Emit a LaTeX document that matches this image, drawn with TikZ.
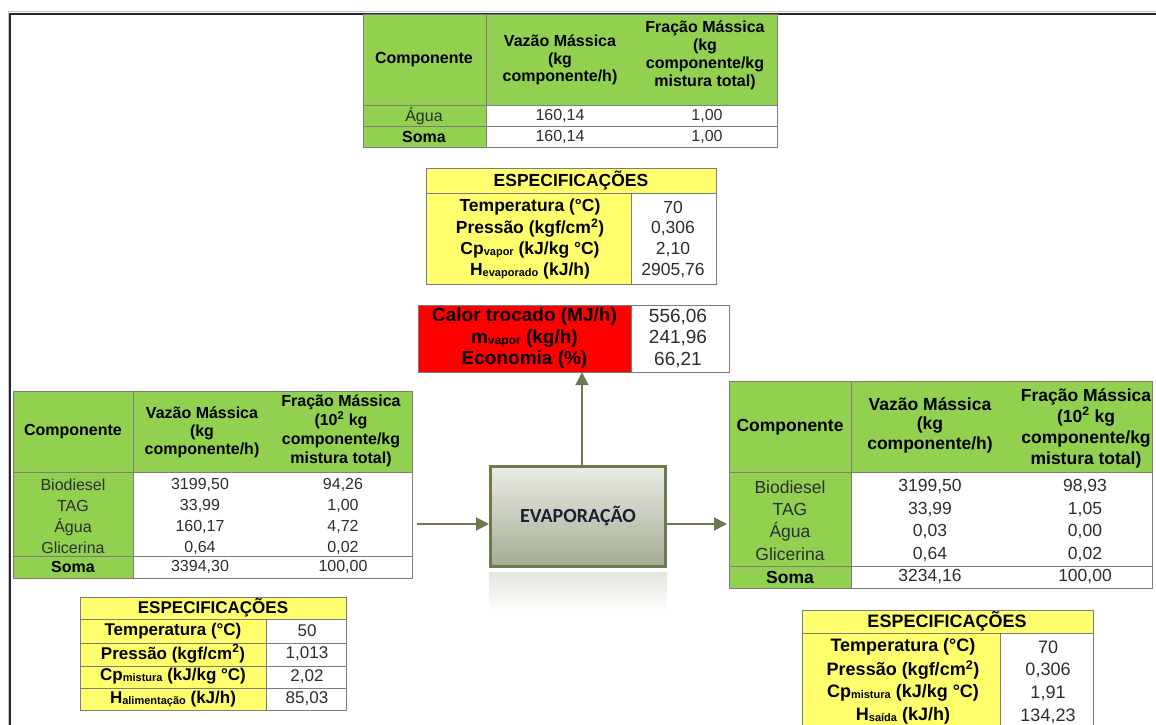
\documentclass[tikz,border=0pt]{standalone}
\usepackage{fontspec}
\setmainfont{Liberation Sans}
\newfontfamily\calibrifont{Carlito}
\usepackage{tikz}
\usetikzlibrary{arrows.meta}

\definecolor{xlgreen}{RGB}{146,208,80}
\definecolor{xlyellow}{RGB}{255,255,110}
\definecolor{xlred}{RGB}{255,0,0}
\definecolor{gridgray}{RGB}{125,125,125}
\definecolor{flowgreen}{RGB}{107,123,79}
\definecolor{boxtop}{RGB}{234,236,230}
\definecolor{boxbot}{RGB}{163,172,146}
\definecolor{valgray}{RGB}{45,45,45}

\newcommand{\subtxt}[1]{{\fontsize{11}{11}\selectfont\raisebox{-1pt}{#1}}}

\tikzset{
  cell/.style={draw=gridgray, line width=1},
  bold/.style={execute at begin node=\bfseries},
  txt/.style={inner sep=0, align=center, text=black},
  val/.style={inner sep=0, align=center, text=valgray},
  flow/.style={draw=flowgreen, line width=2, -{Triangle[width=13,length=13]}},
  procbox/.style={draw=flowgreen, line width=3, top color=boxtop, bottom color=boxbot,
    minimum width=175, minimum height=100, inner sep=0,
    font=\calibrifont\bfseries\fontsize{20}{24}\selectfont, text={rgb,255:red,30;green,30;blue,50}}
}

\begin{document}
\begin{tikzpicture}[x=1pt,y=-1pt]
        \useasboundingbox (0,0) rectangle (1156,725);
        
        % frame
        \draw[gray!45, line width=1] (8,745) -- (8,12) -- (1170,12);
        \draw[black!85, line width=2] (10,745) -- (10,14) -- (1170,14);
        
        % vapour stream
        \begin{scope}[font=\fontsize{16}{17.5}\selectfont]
        \fill[xlgreen] (363,15) rectangle (777,105);
        \fill[xlgreen] (363,105) rectangle (486,147);
        \draw[cell] (363,15) rectangle (777,147);
        \draw[cell] (363,105) -- (777,105);
        \draw[cell] (363,126) -- (777,126);
        \draw[cell] (486,15) -- (486,147);
        \node[txt,bold] (vapcomp) at (424,60) {Componente};
        \node[txt,bold] (vapvaz) at (560,60) {Vazão Mássica\\(kg\\componente/h)};
        \node[txt,bold,font=\fontsize{16}{18}\selectfont] (vapfrac) at (705,55) {Fração Mássica\\(kg\\componente/kg\\mistura total)};
        \node[val] (vapn1) at (424,116) {Água};
        \node[val] (vapa1) at (560,116) {160,14};
        \node[val] (vapb1) at (707,116) {1,00};
        \node[txt,bold] (vapsum) at (424,137) {Soma};
        \node[val] (vapsuma) at (560,137) {160,14};
        \node[val] (vapsumb) at (707,137) {1,00};
        \end{scope}
        
        % vapour specs
        \begin{scope}[font=\fontsize{17.5}{20}\selectfont]
        \fill[xlyellow] (426,168) rectangle (716,193);
        \fill[xlyellow] (426,193) rectangle (631,284);
        \draw[cell] (426,168) rectangle (716,284);
        \draw[cell] (426,193) -- (716,193);
        \draw[cell] (631,193) -- (631,284);
        \node[txt,bold] (spvhead) at (571,181) {ESPECIFICAÇÕES};
        \foreach \lab/\val [count=\i] in {{Temperatura (°C)}/70, {Pressão (kgf/cm\textsuperscript{2})}/{0,306}, {Cp\subtxt{vapor} (kJ/kg °C)}/{2,10}, {H\subtxt{evaporado} (kJ/h)}/{2905,76}} {
          \node[txt,bold] (spvl\i) at (530,{207+(\i-1)*21.3}) {\lab};
          \node[val] (spvv\i) at (673,{207+(\i-1)*21.3}) {\val};
        }
        \end{scope}
        
        % results
        \fill[white] (631,305) rectangle (729,372);
        \node[txt,bold,fill=xlred,minimum width=213,minimum height=67,
          font=\fontsize{19}{21.5}\selectfont] (heat) at (524.5,338.5)
          {Calor trocado (MJ/h)\\m{\fontsize{12}{12}\selectfont\raisebox{-1pt}{vapor}} (kg/h)\\Economia (\%)};
        \node[val,font=\fontsize{19}{21.5}\selectfont] (heatval) at (678,338.5) {556,06\\241,96\\66,21};
        \draw[cell] (418,305) rectangle (729,372);
        \draw[cell] (631,305) -- (631,372);
        
        % feed stream
        \begin{scope}[font=\fontsize{16}{18}\selectfont]
        \fill[xlgreen] (13,391) rectangle (412,472);
        \fill[xlgreen] (13,472) rectangle (133,578);
        \draw[cell] (13,391) rectangle (412,578);
        \draw[cell] (13,472) -- (412,472);
        \draw[cell] (13,556) -- (412,556);
        \draw[cell] (133,391) -- (133,578);
        \node[txt,bold] (feedcomp) at (73,432) {Componente};
        \node[txt,bold] (feedvaz) at (202,432) {Vazão Mássica\\(kg\\componente/h)};
        \node[txt,bold,font=\fontsize{16}{19}\selectfont] (feedfrac) at (341,431) {Fração Mássica\\(10\textsuperscript{2} kg\\componente/kg\\mistura total)};
        \foreach \nm/\va/\vb [count=\i] in {Biodiesel/{3199,50}/{94,26}, TAG/{33,99}/{1,00}, Água/{160,17}/{4,72}, Glicerina/{0,64}/{0,02}} {
          \node[val] (feedn\i) at (73,{485+(\i-1)*21}) {\nm};
          \node[val] (feeda\i) at (200,{485+(\i-1)*21}) {\va};
          \node[val] (feedb\i) at (343,{485+(\i-1)*21}) {\vb};
        }
        \node[txt,bold] (feedsum) at (73,567) {Soma};
        \node[val] (feedsuma) at (200,567) {3394,30};
        \node[val] (feedsumb) at (343,567) {100,00};
        \end{scope}
        
        % feed specs
        \begin{scope}[font=\fontsize{17}{20}\selectfont]
        \fill[xlyellow] (80,597) rectangle (346,619);
        \fill[xlyellow] (80,619) rectangle (266,710);
        \draw[cell] (80,597) rectangle (346,710);
        \foreach \y in {619,643,666,688}
          \draw[cell] (80,\y) -- (346,\y);
        \draw[cell] (266,619) -- (266,710);
        \node[txt,bold] (spfhead) at (213,608) {ESPECIFICAÇÕES};
        \foreach \lab/\val [count=\i] in {{Temperatura (°C)}/50, {Pressão (kgf/cm\textsuperscript{2})}/{1,013}, {Cp\subtxt{mistura} (kJ/kg °C)}/{2,02}, {H\subtxt{alimentação} (kJ/h)}/{85,03}} {
          \node[txt,bold] (spfl\i) at (173,{631+(\i-1)*22.7}) {\lab};
          \node[val] (spfv\i) at (307,{631+(\i-1)*22.7}) {\val};
        }
        \end{scope}
        
        % product stream
        \begin{scope}[font=\fontsize{17.5}{19.5}\selectfont]
        \fill[xlgreen] (729,381) rectangle (1152,472);
        \fill[xlgreen] (729,472) rectangle (851,588);
        \draw[cell] (729,381) rectangle (1152,588);
        \draw[cell] (729,472) -- (1152,472);
        \draw[cell] (729,566) -- (1152,566);
        \draw[cell] (851,381) -- (851,588);
        \node[txt,bold] (prodcomp) at (790,427) {Componente};
        \node[txt,bold] (prodvaz) at (930,425) {Vazão Mássica\\(kg\\componente/h)};
        \node[txt,bold,font=\fontsize{17.5}{21}\selectfont] (prodfrac) at (1086,428) {Fração Mássica\\(10\textsuperscript{2} kg\\componente/kg\\mistura total)};
        \foreach \nm/\va/\vb [count=\i] in {Biodiesel/{3199,50}/{98,93}, TAG/{33,99}/{1,05}, Água/{0,03}/{0,00}, Glicerina/{0,64}/{0,02}} {
          \node[val] (prodn\i) at (790,{487+(\i-1)*22.5}) {\nm};
          \node[val] (proda\i) at (930,{487+(\i-1)*22.5}) {\va};
          \node[val] (prodb\i) at (1085,{487+(\i-1)*22.5}) {\vb};
        }
        \node[txt,bold] (prodsum) at (790,577) {Soma};
        \node[val] (prodsuma) at (930,577) {3234,16};
        \node[val] (prodsumb) at (1085,577) {100,00};
        \end{scope}
        
        % product specs
        \begin{scope}[font=\fontsize{18}{20}\selectfont]
        \fill[xlyellow] (802,610) rectangle (1093,633);
        \fill[xlyellow] (802,633) rectangle (1000,740);
        \draw[cell] (802,740) -- (802,610) -- (1093,610) -- (1093,740);
        \draw[cell] (802,633) -- (1093,633);
        \draw[cell] (1000,633) -- (1000,740);
        \node[txt,bold] (spphead) at (947,621.5) {ESPECIFICAÇÕES};
        \foreach \lab/\val [count=\i] in {{Temperatura (°C)}/70, {Pressão (kgf/cm\textsuperscript{2})}/{0,306}, {Cp\subtxt{mistura} (kJ/kg °C)}/{1,91}, {H\subtxt{saída} (kJ/h)}/{134,23}} {
          \node[txt,bold] (sppl\i) at (903,{647+(\i-1)*23}) {\lab};
          \node[val] (sppv\i) at (1048,{647+(\i-1)*23}) {\val};
        }
        \end{scope}
        
        % evaporator (with its faint reflection)
        \shade[top color=boxbot!30!white, bottom color=white] (489,572) rectangle (667,612);
        \node[procbox] (proc) at (578,516.5) {EVAPORAÇÃO};
        
        \coordinate (feedout) at (417,524);
        \coordinate (prodin) at (727,524);
        \draw[flow] (feedout) -- (feedout -| proc.west);
        \draw[flow] (proc.east |- prodin) -- (prodin);
        \draw[flow] ([xshift=4]proc.north) -- ([xshift=4]proc.north |- heat.south);
        
\end{tikzpicture}
\end{document}
